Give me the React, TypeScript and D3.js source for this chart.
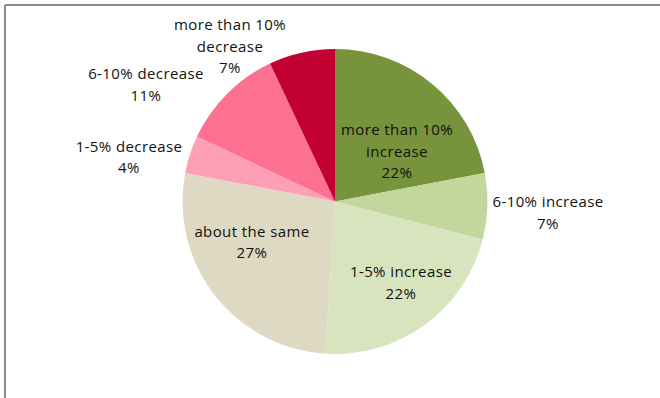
import React from "react";
import * as d3 from "d3";

const categories = [
  "more than 10% increase",
  "6-10% increase",
  "1-5% increase",
  "about the same",
  "1-5% decrease",
  "6-10% decrease",
  "more than 10% decrease",
];
const values = [22, 7, 22, 27, 4, 11, 7];
const labelLines = [
  ["more than 10%", "increase"],
  ["6-10% increase"],
  ["1-5% increase"],
  ["about the same"],
  ["1-5% decrease"],
  ["6-10% decrease"],
  ["more than 10%", "decrease"],
];
const colors = ["#77933C", "#C3D69B", "#D7E4BD", "#DDD9C3", "#FDA0B5", "#FD7091", "#C30032"];

// label anchor (center x, first baseline y) — layout only
const labelLayout: [number, number][] = [
  [397, 135],
  [548, 207],
  [401, 277],
  [252, 236.5],
  [129, 151.5],
  [146, 79],
  [230, 30],
];

const W = 660;
const H = 398;
const cx = 335;
const cy = 201.5;
const R = 152.5;

export default function App() {
  const pie = d3.pie<number>().sort(null).value((d) => d);
  const arcs = pie(values);
  const arc = d3.arc<d3.PieArcDatum<number>>().innerRadius(0).outerRadius(R);
  const lineH = 21.7;
  return (
    <svg
      width={W}
      height={H}
      style={{ position: "absolute", left: 0, top: 0, background: "#fff" }}
      fontFamily="'Open Sans', sans-serif"
    >
      <rect x={0} y={0} width={W} height={H} fill="#fff" />
      <line x1={5} y1={5} x2={W} y2={5} stroke="#8c8c8c" strokeWidth={2} />
      <line x1={5} y1={5} x2={5} y2={H} stroke="#8c8c8c" strokeWidth={2} />
      <g transform={`translate(${cx},${cy})`}>
        {arcs.map((a, i) => (
          <path key={categories[i]} d={arc(a) || ""} fill={colors[i]} />
        ))}
      </g>
      {labelLayout.map(([x, y], i) => {
        const lines = [...labelLines[i], `${values[i]}%`];
        return (
          <text
            key={i}
            x={x}
            y={y}
            textAnchor="middle"
            fontSize={15}
            letterSpacing={0.4}
            fill="#111"
          >
            {lines.map((l, j) => (
              <tspan key={j} x={x} y={y + j * lineH}>
                {l}
              </tspan>
            ))}
          </text>
        );
      })}
    </svg>
  );
}
